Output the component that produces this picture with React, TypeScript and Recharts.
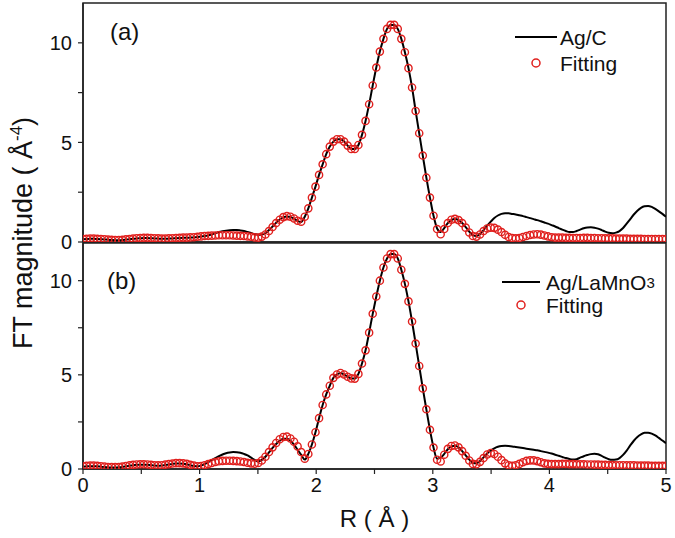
import React from 'react';
import { ComposedChart, Line, XAxis, YAxis, ReferenceArea, Customized, Label } from 'recharts';

const FONT = '"Liberation Sans", Arial, Helvetica, sans-serif';
const RED = '#e0201e';
const AXIS = '#222';

// x grid: R (Å), 164 points from 0 to 5
const xTicks = [0, 0.5, 1, 1.5, 2, 2.5, 3, 3.5, 4, 4.5, 5];
const xLabelTicks = [0, 1, 2, 3, 4, 5];
const yTicks = [0, 2.5, 5, 7.5, 10];
const yLabelTicks = [0, 5, 10];
const panelLabels = ['(a)', '(b)'];
const legendA = ['Ag/C', 'Fitting'];
const legendB = ['Ag/LaMnO', '3', 'Fitting'];
const xTitle = 'R ( Å )';
const yTitle = ['FT magnitude ( Å', '-4', ')'];

// Panel (a): Ag/C experiment
const expA = [
  0.14, 0.15, 0.16, 0.16, 0.15, 0.14, 0.13, 0.11, 0.1, 0.09, 0.09, 0.1, 0.12, 0.14, 0.16, 0.18, 0.19, 0.2, 0.2, 0.19,
  0.18, 0.17, 0.16, 0.16, 0.17, 0.18, 0.19, 0.2, 0.21, 0.21, 0.22, 0.23, 0.25,
  0.28, 0.3, 0.33, 0.38, 0.44, 0.5, 0.54, 0.57, 0.59, 0.6, 0.6, 0.58, 0.55, 0.5, 0.45, 0.4, 0.37, 0.38, 0.45, 0.6,
  0.78, 0.97, 1.13, 1.24, 1.28, 1.26, 1.17, 1.06, 1.0,
  1.27, 1.69, 2.23, 2.78, 3.37, 3.9, 4.41, 4.79, 5.04, 5.16, 5.16, 5.04, 4.84, 4.67, 4.67, 4.87, 5.38, 6.08, 6.92,
  7.86, 8.76, 9.56, 10.2, 10.7, 10.9, 10.9, 10.7, 10.2, 9.53, 8.73, 7.76, 6.58, 5.46, 4.34, 3.23, 2.23, 1.32, 0.68,
  0.5, 0.7, 0.95, 1.1, 1.15, 1.1, 0.95, 0.75, 0.52, 0.35, 0.3, 0.4, 0.6, 0.82, 1.02, 1.2, 1.33, 1.41, 1.44, 1.44,
  1.41, 1.38, 1.34, 1.3, 1.25, 1.2, 1.15, 1.1, 1.04, 0.98, 0.92, 0.85, 0.78, 0.7, 0.62, 0.55, 0.5, 0.5, 0.55, 0.62,
  0.69, 0.73, 0.74, 0.72, 0.67, 0.6, 0.52, 0.46, 0.44, 0.47, 0.55, 0.7, 0.92, 1.15, 1.38, 1.57, 1.71, 1.79, 1.81,
  1.76, 1.66, 1.54, 1.41, 1.27,
];

// Panel (a): fitting
const fitA = [
  0.15, 0.16, 0.17, 0.17, 0.16, 0.15, 0.14, 0.12, 0.11, 0.1, 0.1, 0.11, 0.13, 0.15, 0.17, 0.19, 0.2, 0.21, 0.21, 0.2,
  0.19, 0.18, 0.17, 0.17, 0.18, 0.19, 0.2, 0.21, 0.22, 0.22, 0.23, 0.24, 0.26, 0.28, 0.3, 0.31, 0.32, 0.33, 0.34,
  0.34, 0.34, 0.34, 0.33, 0.32, 0.31, 0.3, 0.28, 0.26, 0.23, 0.22, 0.27, 0.38, 0.55, 0.75, 0.95, 1.12, 1.25, 1.3,
  1.27, 1.18, 1.07,
  1.02, 1.27, 1.69, 2.23, 2.78, 3.37, 3.9, 4.41, 4.79, 5.04, 5.16, 5.16, 5.04, 4.84, 4.67, 4.67, 4.87, 5.38, 6.08,
  6.92, 7.86, 8.76, 9.56, 10.2, 10.7, 10.9, 10.9, 10.7, 10.2, 9.53, 8.73, 7.76, 6.58, 5.46, 4.34, 3.23, 2.23, 1.32,
  0.65,
  0.39, 0.65, 0.95, 1.12, 1.16, 1.1, 0.95, 0.72, 0.48, 0.3, 0.27, 0.38, 0.55, 0.68, 0.72, 0.71, 0.62, 0.5, 0.36,
  0.25, 0.2, 0.18, 0.2, 0.25, 0.3, 0.35, 0.38, 0.39, 0.37, 0.33, 0.28, 0.24,
  0.22, 0.22, 0.22, 0.21, 0.21, 0.2, 0.2, 0.2, 0.21, 0.21, 0.2, 0.2, 0.19, 0.19, 0.18, 0.18, 0.18, 0.17, 0.17, 0.17,
  0.17, 0.16, 0.16, 0.16, 0.16, 0.15, 0.15, 0.15, 0.15, 0.15, 0.15, 0.15,
];

// Panel (b): Ag/LaMnO3 experiment
const expB = [
  0.12, 0.14, 0.15, 0.15, 0.14, 0.12, 0.1, 0.09, 0.08, 0.08, 0.09, 0.11, 0.14, 0.17, 0.2, 0.22, 0.23, 0.23, 0.22,
  0.2, 0.18, 0.17, 0.18, 0.21, 0.24, 0.27, 0.29, 0.29, 0.28, 0.25, 0.2, 0.16, 0.14,
  0.18, 0.26, 0.36, 0.47, 0.58, 0.68, 0.77, 0.84, 0.88, 0.9, 0.89, 0.86, 0.8, 0.72, 0.6, 0.48, 0.4, 0.48, 0.65, 0.88,
  1.12, 1.33, 1.5, 1.6, 1.6, 1.5, 1.3, 1.02, 0.75, 0.5, 0.8, 1.3,
  1.95, 2.7, 3.4, 3.96, 4.42, 4.84, 5.02, 5.1, 5.02, 4.9, 4.81, 4.8, 5.05, 5.6, 6.3, 7.24, 8.24, 9.16, 10.0, 10.7,
  11.18, 11.41, 11.41, 11.18, 10.58, 9.83, 8.9, 7.83, 6.66, 5.47, 4.28, 3.17, 2.08, 1.14, 0.55,
  0.6, 0.8, 1.05, 1.2, 1.23, 1.15, 0.95, 0.72, 0.5, 0.33, 0.3, 0.42, 0.62, 0.82, 0.98, 1.1, 1.18, 1.22, 1.23, 1.22,
  1.2, 1.17, 1.14, 1.11, 1.08, 1.05, 1.02, 0.99, 0.95, 0.91, 0.87, 0.82, 0.76, 0.7, 0.64, 0.58, 0.53, 0.5, 0.52, 0.6,
  0.68, 0.74, 0.79, 0.81, 0.78, 0.7, 0.6, 0.52, 0.49, 0.5, 0.58, 0.75, 0.98, 1.25, 1.5, 1.7, 1.84, 1.92, 1.93, 1.88,
  1.78, 1.65, 1.51, 1.37,
];

// Panel (b): fitting
const fitB = [
  0.15, 0.17, 0.18, 0.18, 0.17, 0.15, 0.13, 0.11, 0.1, 0.1, 0.11, 0.13, 0.16, 0.19, 0.22, 0.24, 0.25, 0.25, 0.24,
  0.22, 0.2, 0.19, 0.2, 0.23, 0.26, 0.29, 0.31, 0.31, 0.3, 0.27, 0.22, 0.18, 0.15, 0.16, 0.2, 0.26, 0.32, 0.37, 0.41,
  0.43, 0.44, 0.44, 0.43, 0.42, 0.4, 0.37, 0.33, 0.3, 0.28, 0.32, 0.45, 0.65, 0.9, 1.15, 1.38, 1.58, 1.7, 1.72, 1.62,
  1.45, 1.2, 0.9, 0.55, 0.8, 1.3,
  1.95, 2.7, 3.4, 3.96, 4.42, 4.84, 5.02, 5.1, 5.02, 4.9, 4.81, 4.8, 5.05, 5.6, 6.3, 7.24, 8.24, 9.16, 10.0, 10.7,
  11.18, 11.41, 11.41, 11.18, 10.58, 9.83, 8.9, 7.83, 6.66, 5.47, 4.28, 3.17, 2.08, 1.14, 0.49,
  0.4, 0.76, 1.07, 1.22, 1.25, 1.15, 0.95, 0.7, 0.45, 0.27, 0.25, 0.38, 0.58, 0.77, 0.85, 0.8, 0.65, 0.47, 0.3, 0.2,
  0.17, 0.2, 0.27, 0.36, 0.43, 0.46, 0.46, 0.42, 0.36, 0.3, 0.27,
  0.26, 0.26, 0.26, 0.27, 0.27, 0.26, 0.26, 0.25, 0.25, 0.25, 0.24, 0.24, 0.23, 0.23, 0.22, 0.22, 0.21, 0.21, 0.2,
  0.2, 0.2, 0.19, 0.19, 0.19, 0.18, 0.18, 0.18, 0.18, 0.17, 0.17, 0.17, 0.17, 0.17,
];

const rOf = (i: number) => (i * 5) / 163;
const dataA = expA.map((v, i) => ({ r: rOf(i), exp: v, fit: fitA[i] }));
const dataB = expB.map((v, i) => ({ r: rOf(i), exp: v, fit: fitB[i] }));

const fmtX = (v: number) => (xLabelTicks.includes(v) ? String(v) : '');
const fmtY = (v: number) => (yLabelTicks.includes(v) ? String(v) : '');

const tickStyle = { fill: '#111', fontSize: 20, fontFamily: FONT };
const dotStyle = { r: 3.6, fill: 'none', stroke: RED, strokeWidth: 1.4 };

const LegendTop = () => (
  <g fontFamily={FONT} fill="#111">
    <line x1={515} y1={37} x2={557} y2={37} stroke="#000" strokeWidth={2} />
    <text x={560} y={37} fontSize={21} dominantBaseline="central">{legendA[0]}</text>
    <circle cx={536} cy={63} r={4} fill="none" stroke={RED} strokeWidth={1.5} />
    <text x={560} y={63} fontSize={21} dominantBaseline="central">{legendA[1]}</text>
    <text x={110} y={31} fontSize={24} dominantBaseline="central">{panelLabels[0]}</text>
  </g>
);

const LegendBottom = () => (
  <g fontFamily={FONT} fill="#111">
    <line x1={502} y1={42} x2={540} y2={42} stroke="#000" strokeWidth={2} />
    <text x={546} y={42} fontSize={21} dominantBaseline="central">
      {legendB[0]}
      <tspan fontSize={15}>{legendB[1]}</tspan>
    </text>
    <circle cx={521} cy={65} r={4} fill="none" stroke={RED} strokeWidth={1.5} />
    <text x={546} y={65} fontSize={21} dominantBaseline="central">{legendB[2]}</text>
    <text x={107} y={40} fontSize={24} dominantBaseline="central">{panelLabels[1]}</text>
  </g>
);

const XTitle = (props: any) => {
  const vb = props.viewBox || { x: 83, y: 229, width: 583, height: 69 };
  return (
    <text x={vb.x + vb.width / 2} y={vb.y + 58} textAnchor="middle" fontSize={24} fontFamily={FONT} fill="#111">
      {xTitle}
    </text>
  );
};

export default function App() {
  return (
    <div style={{ position: 'absolute', left: 0, top: 0, width: 675, height: 538, background: '#fff' }}>
      <div style={{ position: 'absolute', left: 0, top: 0 }}>
        <ComposedChart width={675} height={262} data={dataA} margin={{ top: 3, right: 9, bottom: 0, left: 0 }}>
          <XAxis
            dataKey="r"
            type="number"
            domain={[0, 5]}
            ticks={xTicks}
            tick={false}
            tickSize={-5}
            height={20}
            allowDataOverflow
            axisLine={{ stroke: AXIS, strokeWidth: 1.5 }}
            tickLine={{ stroke: AXIS, strokeWidth: 1.2 }}
          />
          <YAxis
            type="number"
            domain={[0, 12]}
            ticks={yTicks}
            width={83}
            tickSize={5}
            tickMargin={6}
            tickFormatter={fmtY}
            tick={tickStyle}
            allowDataOverflow
            axisLine={{ stroke: AXIS, strokeWidth: 1.5 }}
            tickLine={{ stroke: AXIS, strokeWidth: 1.2 }}
          />
          <ReferenceArea x1={0} x2={5} y1={0} y2={12} fill="none" fillOpacity={0} stroke={AXIS} strokeWidth={1.5} ifOverflow="visible" />
          <Line dataKey="exp" type="monotone" stroke="#000" strokeWidth={2} dot={false} activeDot={false} isAnimationActive={false} />
          <Line dataKey="fit" type="linear" stroke="none" dot={dotStyle} activeDot={false} isAnimationActive={false} />
          <Customized component={<LegendTop />} />
        </ComposedChart>
      </div>
      <div style={{ position: 'absolute', left: 0, top: 240 }}>
        <ComposedChart width={675} height={298} data={dataB} margin={{ top: 3, right: 9, bottom: 0, left: 0 }}>
          <XAxis
            dataKey="r"
            type="number"
            domain={[0, 5]}
            ticks={xTicks}
            tickSize={5}
            tickMargin={4}
            tickFormatter={fmtX}
            tick={tickStyle}
            height={69}
            allowDataOverflow
            axisLine={{ stroke: AXIS, strokeWidth: 1.5 }}
            tickLine={{ stroke: AXIS, strokeWidth: 1.2 }}
          >
            <Label content={XTitle} />
          </XAxis>
          <YAxis
            type="number"
            domain={[0, 12]}
            ticks={yTicks}
            width={83}
            tickSize={5}
            tickMargin={6}
            tickFormatter={fmtY}
            tick={tickStyle}
            allowDataOverflow
            axisLine={{ stroke: AXIS, strokeWidth: 1.5 }}
            tickLine={{ stroke: AXIS, strokeWidth: 1.2 }}
          />
          <ReferenceArea x1={0} x2={5} y1={0} y2={12} fill="none" fillOpacity={0} stroke={AXIS} strokeWidth={1.5} ifOverflow="visible" />
          <Line dataKey="exp" type="monotone" stroke="#000" strokeWidth={2} dot={false} activeDot={false} isAnimationActive={false} />
          <Line dataKey="fit" type="linear" stroke="none" dot={dotStyle} activeDot={false} isAnimationActive={false} />
          <Customized component={<LegendBottom />} />
        </ComposedChart>
      </div>
      <svg width={60} height={538} style={{ position: 'absolute', left: 0, top: 0, pointerEvents: 'none' }}>
        <text
          x={32}
          y={233}
          transform="rotate(-90 32 233)"
          textAnchor="middle"
          fontSize={27}
          fontFamily={FONT}
          fill="#111"
        >
          {yTitle[0]}
          <tspan dy={-10} fontSize={17}>{yTitle[1]}</tspan>
          <tspan dy={10}>{yTitle[2]}</tspan>
        </text>
      </svg>
    </div>
  );
}
